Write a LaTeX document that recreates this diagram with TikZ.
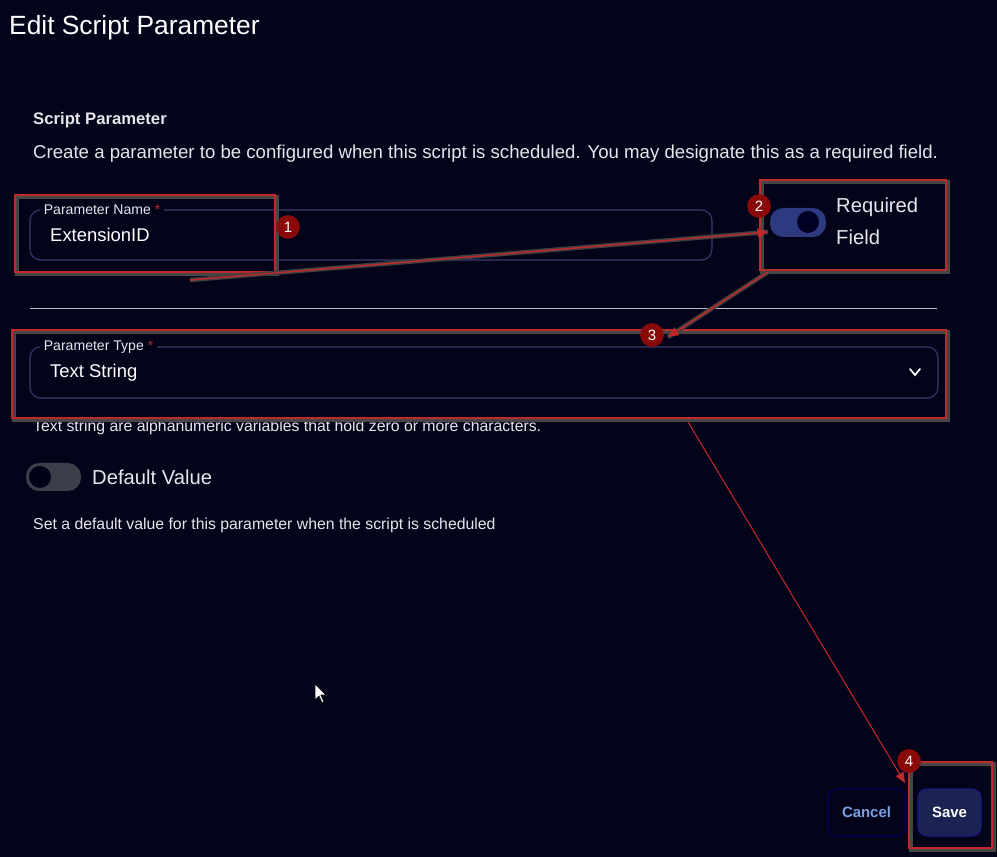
\documentclass[tikz,border=0pt]{standalone}
\usepackage{fontspec}
\setmainfont{Liberation Sans}
\usetikzlibrary{positioning,arrows.meta}
\definecolor{bgdark}{HTML}{03031A}
\definecolor{fieldline}{HTML}{3A3D6B}
\definecolor{markred}{HTML}{C0282C}
\definecolor{badgered}{HTML}{8A0A0A}
\definecolor{txtgray}{HTML}{E6E6EA}
\definecolor{savefill}{HTML}{1A2352}
\definecolor{cancelblue}{HTML}{7AA0E0}
\definecolor{toggleon}{HTML}{2E3A80}
\definecolor{toggleoff}{HTML}{3C3F4A}
\tikzset{
  field/.style={draw=fieldline, rounded corners=6pt, line width=0.6pt},
  flabel/.style={anchor=west, fill=bgdark, inner sep=2pt, text=txtgray, font=\fontsize{8}{9}\selectfont},
  fvalue/.style={anchor=west, text=white, font=\fontsize{10.5}{12}\selectfont},
  markbox/.style={draw=markred, line width=1pt, preaction={draw=gray!55!black, line width=2.5pt, transform canvas={shift={(1.2pt,-1.2pt)}}}},
  badge/.style={circle, fill=badgered, text=white, inner sep=0pt, minimum size=13.5pt, font=\fontsize{8.5}{9}\selectfont},
  markarrow/.style={draw=markred, line width=0.8pt, -{Triangle[length=6pt,width=5pt]}, preaction={draw=gray!50!black, line width=2.5pt, -}},
}
\begin{document}
\begin{tikzpicture}[x=0.02cm, y=-0.02cm]
% background
\fill[bgdark] (0,0) rectangle (997,857);
\useasboundingbox (0,0) rectangle (997,857);
% title and intro
\node[anchor=west, text=white, font=\fontsize{15}{17}\selectfont] (title) at (3,28) {Edit Script Parameter};
\node[anchor=west, text=txtgray, font=\bfseries\fontsize{9.5}{10}\selectfont] (head) at (27,120) {Script Parameter};
\node[anchor=west, text=txtgray, font=\fontsize{10.6}{12}\selectfont] (intro) at (27,154) {Create a parameter to be configured when this script is scheduled. You may designate this as a required field.};
% parameter name field
\draw[field] (30,210) rectangle (712,260);
\node[flabel] (namelbl) at (40,210) {Parameter Name \textcolor{markred}{*}};
\node[fvalue] (nameval) at (44,235) {ExtensionID};
% required toggle
\fill[toggleon, rounded corners=7.5pt] (770,208) rectangle (826,237);
\fill[black!85!blue] (808,222) circle (11);
\node[anchor=west, text=txtgray, font=\fontsize{11.5}{13}\selectfont] (reqa) at (830,207) {Required};
\node[anchor=west, text=txtgray, font=\fontsize{11.5}{13}\selectfont] (reqb) at (830,237) {Field};
% separator
\draw[fieldline!35, line width=0.4pt] (30,308) -- (937,308);
% parameter type field
\draw[field] (30,347) rectangle (938,398);
\node[flabel] (typelbl) at (40,347) {Parameter Type \textcolor{markred}{*}};
\node[fvalue] (typeval) at (44,373) {Text String};
\draw[white, line width=1pt, line cap=round] (910,369) -- (915,375) -- (920,369);
\node[anchor=west, text=txtgray, font=\fontsize{9}{10}\selectfont] (typehelp) at (27,427) {Text string are alphanumeric variables that hold zero or more characters.};
% default value toggle
\fill[toggleoff, rounded corners=7.5pt] (26,463) rectangle (81,491);
\fill[black!90!blue] (40,477) circle (11);
\node[anchor=west, text=txtgray, font=\fontsize{11.5}{13}\selectfont] (defval) at (86,477) {Default Value};
\node[anchor=west, text=txtgray, font=\fontsize{9}{10}\selectfont] (defhelp) at (27,525) {Set a default value for this parameter when the script is scheduled};
% mouse cursor
\draw[black, fill=white, line width=0.4pt] (315,684) -- (315,700) -- (319,696) -- (322,703) -- (324,702) -- (321,695) -- (326,695) -- cycle;
% buttons
\draw[draw=blue!40!black, rounded corners=5pt, line width=0.6pt] (828,789) rectangle (905,836);
\node[text=cancelblue, font=\bfseries\fontsize{8.5}{9}\selectfont] (cancel) at (866.5,812) {Cancel};
\draw[draw=blue!45!black!90, fill=savefill, rounded corners=5pt, line width=0.6pt] (918,789) rectangle (981,836);
\node[text=white, font=\bfseries\fontsize{8.5}{9}\selectfont] (save) at (949.5,812) {Save};
% marker boxes
\draw[markbox] (15,195) rectangle (275,272);
\draw[markbox] (760,180) rectangle (946,270);
\draw[markbox] (12,330) rectangle (946,418);
\draw[markbox] (909,762) rectangle (992,848);
% arrows
\coordinate (a1) at (190,280);
\coordinate (a2) at (768,232);
\coordinate (b1) at (768,272);
\coordinate (b2) at (668,337);
\coordinate (c1) at (688,422);
\coordinate (c2) at (905,783);
\draw[markarrow] (a1) -- (a2);
\draw[markarrow] (b1) -- (b2);
\draw[markred, line width=0.6pt, -{Triangle[length=6pt,width=5pt]}] (c1) -- (c2);
% badges
\node[badge] (n1) at (288,227) {1};
\node[badge] (n2) at (759,206) {2};
\node[badge] (n3) at (652,335) {3};
\node[badge] (n4) at (909,761) {4};
\end{tikzpicture}
\end{document}
